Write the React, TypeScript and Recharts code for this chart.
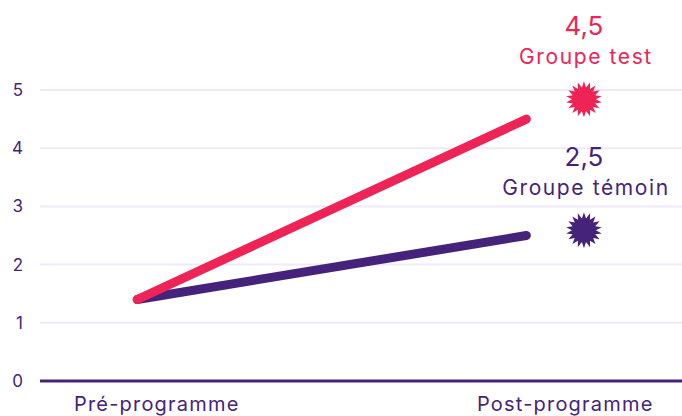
import { LineChart, Line, XAxis, YAxis, CartesianGrid, ReferenceDot } from "recharts";

const categories = ["Pré-programme", "Post-programme"];
const groupeTest = [1.4, 4.5];
const groupeTemoin = [1.4, 2.5];
const seriesNames = ["Groupe test", "Groupe témoin"];
const seriesColors = ["#ee2457", "#46237a"];
const finalValues = [4.5, 2.5];
// where the star markers sit (y) next to the end of each line
const markerLevels = [4.84, 2.59];
const yTicks = [0, 1, 2, 3, 4, 5];
// category labels are slightly offset from the line end points
const categoryTicks = [0.05, 1.1];

const PURPLE = "#46237a";
const FONT = "Inter, 'Noto Sans', sans-serif";

const data = categories.map((c, i) => ({
  i,
  label: c,
  test: groupeTest[i],
  temoin: groupeTemoin[i],
}));

const starPoints = (cx: number, cy: number, outer: number, inner: number, n: number) => {
  const pts: string[] = [];
  for (let k = 0; k < n * 2; k++) {
    const r = k % 2 === 0 ? outer : inner;
    const a = (Math.PI * k) / n - Math.PI / 2;
    pts.push(`${cx + r * Math.cos(a)},${cy + r * Math.sin(a)}`);
  }
  return pts.join(" ");
};

const StarMarker = (props: any) => {
  const { cx, cy, color, value, name } = props;
  return (
    <g>
      <text x={cx} y={cy - 64} textAnchor="middle" fill={color} fontSize={26} fontFamily={FONT}>
        {String(value).replace(".", ",")}
      </text>
      <text
        x={cx + 2}
        y={cy - 35}
        textAnchor="middle"
        fill={color}
        fontSize={21}
        letterSpacing={1.6}
        fontFamily={FONT}
      >
        {name}
      </text>
      <polygon points={starPoints(cx, cy, 18, 12, 18)} fill={color} />
    </g>
  );
};

export default function App() {
  return (
    <div>
      <style>{`body{margin:0}`}</style>
      <LineChart
        width={682}
        height={416}
        data={data}
        margin={{ top: 90, right: 0, bottom: 0, left: 0 }}
      >
        <CartesianGrid vertical={false} stroke="#efeafb" strokeWidth={2} />
        <XAxis
          dataKey="i"
          type="number"
          domain={[-0.25, 1.4]}
          ticks={categoryTicks}
          tickFormatter={(_v, idx) => categories[idx]}
          axisLine={{ stroke: PURPLE, strokeWidth: 3 }}
          tickLine={false}
          height={35}
          tickMargin={10}
          tick={{ fill: PURPLE, fontSize: 20, fontFamily: FONT, letterSpacing: 1.2 }}
        />
        <YAxis
          domain={[0, 5]}
          ticks={yTicks}
          axisLine={false}
          tickLine={false}
          width={40}
          tickMargin={11}
          tick={{ fill: PURPLE, fontSize: 17, fontFamily: FONT }}
        />
        <Line
          dataKey="temoin"
          stroke={seriesColors[1]}
          strokeWidth={9}
          strokeLinecap="round"
          dot={false}
          activeDot={false}
          isAnimationActive={false}
        />
        <Line
          dataKey="test"
          stroke={seriesColors[0]}
          strokeWidth={9}
          strokeLinecap="round"
          dot={false}
          activeDot={false}
          isAnimationActive={false}
        />
        {seriesNames.map((n, k) => (
          <ReferenceDot
            key={n}
            x={1.148}
            y={markerLevels[k]}
            shape={(p: any) => (
              <StarMarker {...p} color={seriesColors[k]} value={finalValues[k]} name={n} />
            )}
          />
        ))}
      </LineChart>
    </div>
  );
}
